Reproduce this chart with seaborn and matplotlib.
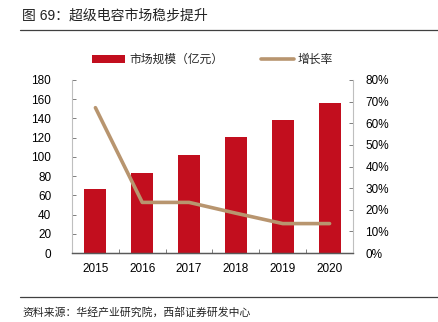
import matplotlib
matplotlib.use("Agg")
import matplotlib.pyplot as plt
import seaborn as sns
import pandas as pd
from matplotlib.patches import Patch
from matplotlib.lines import Line2D
from matplotlib.ticker import FuncFormatter

years = ["2015", "2016", "2017", "2018", "2019", "2020"]
market_size = [67, 83, 102, 121, 138, 156]
growth_rate = [0.672, 0.234, 0.234, 0.184, 0.136, 0.136]
bar_label = "市场规模（亿元）"
line_label = "增长率"
title = "图 69：超级电容市场稳步提升"
source = "资料来源：华经产业研究院，西部证券研发中心"

df = pd.DataFrame({"year": years, "size": market_size, "growth": growth_rate})

sns.set_theme(style="white")
plt.rcParams["font.family"] = ["Liberation Sans", "Noto Sans CJK SC"]

RED = "#C20E1E"
TAN = "#B8956F"

fig = plt.figure(figsize=(4.38, 3.22), dpi=100)
ax = fig.add_axes([72/438, 1-253/322, (353-72)/438, (253-80)/322])

sns.barplot(data=df, x="year", y="size", color=RED, width=0.47, ax=ax,
            saturation=1, edgecolor="none")
ax.set_ylim(0, 180)
ax.set_yticks(range(0, 181, 20))
ax.set_xlim(-0.5, 5.5)
ax.set_xlabel("")
ax.set_ylabel("")

ax2 = ax.twinx()
sns.lineplot(data=df, x="year", y="growth", color=TAN, linewidth=2.6, ax=ax2)
ax2.set_ylim(0, 0.8)
ax2.set_yticks([i/10 for i in range(9)])
ax2.yaxis.set_major_formatter(FuncFormatter(lambda v, p: f"{v*100:.0f}%"))
ax2.set_ylabel("")
ax2.set_xlim(-0.5, 5.5)

for a in (ax, ax2):
    a.spines["top"].set_visible(False)
    a.spines["left"].set_color("#BFBFBF")
    a.spines["right"].set_color("#BFBFBF")
    a.spines["bottom"].set_color("#595959")
    a.spines["left"].set_linewidth(0.8)
    a.spines["right"].set_linewidth(0.8)
    a.spines["bottom"].set_linewidth(0.9)
ax2.spines["left"].set_visible(False)
ax.spines["right"].set_visible(False)

ax.tick_params(axis="y", direction="in", length=3, width=0.7, color="#7F7F7F",
               labelsize=8.5, labelcolor="black", pad=15, left=True)
ax2.tick_params(axis="y", direction="in", length=3, width=0.7, color="#7F7F7F",
                labelsize=8.5, labelcolor="black", pad=9, right=True)
ax.set_xticks([i + 0.5 for i in range(5)], minor=True)
ax.tick_params(axis="x", which="major", length=0, labelsize=8.5, labelcolor="black", pad=7)
ax.tick_params(axis="x", which="minor", direction="in", length=3, width=0.7,
               color="#7F7F7F", bottom=True)

handles = [Patch(facecolor=RED, edgecolor="none", label=bar_label),
           Line2D([0], [0], color=TAN, linewidth=2.6, label=line_label)]
fig.legend(handles=handles, loc="center", bbox_to_anchor=(0.485, 1-60/322),
           ncol=2, frameon=False, fontsize=8.5, handlelength=2.8,
           handleheight=0.6, columnspacing=3.2, handletextpad=0.3)

fig.text(22/438, 1-16/322, title, fontsize=10, va="center", ha="left", color="#222222")
fig.add_artist(Line2D([20/438, 1], [1-30/322, 1-30/322], color="#404040", linewidth=0.9))
fig.add_artist(Line2D([20/438, 1], [1-297/322, 1-297/322], color="#404040", linewidth=0.9))
fig.text(22/438, 1-312/322, source, fontsize=7.8, va="center", ha="left", color="#222222")

fig.savefig("out.png", dpi=100, facecolor="white")
